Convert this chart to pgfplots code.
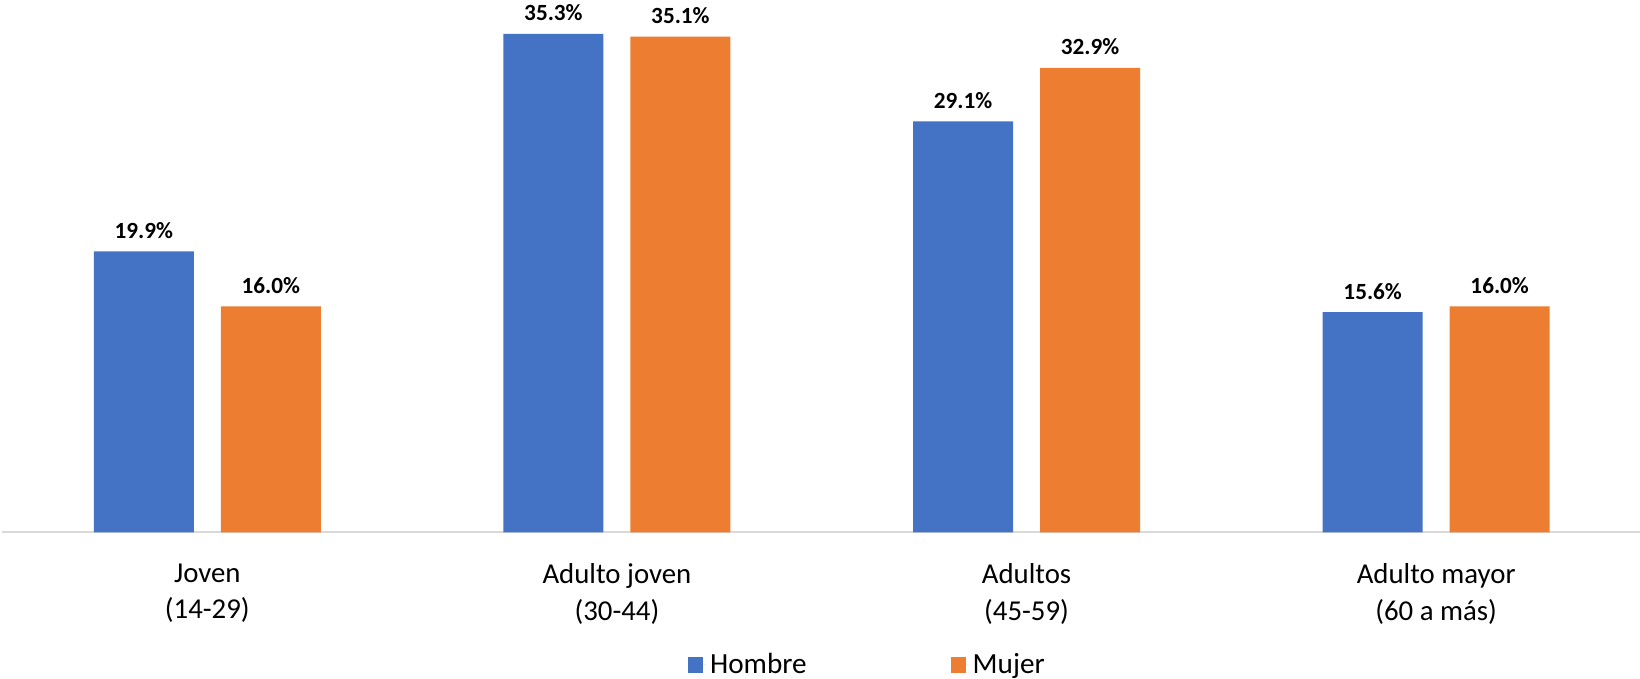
\documentclass[border=0pt]{standalone}
\usepackage{pgfplots}
\pgfplotsset{compat=1.18}
\usepackage{fontspec}
\setmainfont{Carlito}
\definecolor{cblue}{HTML}{4472C4}
\definecolor{corange}{HTML}{ED7D31}
\definecolor{axgray}{HTML}{D9D9D9}
\begin{document}
\begin{tikzpicture}
\begin{axis}[
  at={(0,0)}, anchor=south west,
  scale only axis, width=819.25pt, height=266.15pt,
  xmin=-0.5, xmax=3.5, ymin=0, ymax=37.7,
  enlargelimits=false, clip=false,
  axis x line*=bottom, axis y line=none,
  x axis line style={axgray, line width=1pt},
  ytick=\empty,
  xtick={0,1,2,3},
  xticklabels={{Joven\\(14-29)},{Adulto joven\\(30-44)},{Adultos\\(45-59)},{Adulto mayor\\(60 a más)}},
  major tick length=0pt,
  xticklabel style={align=center, font=\fontsize{14.4}{18.15}\selectfont, text=black, yshift=-12.3pt},
  ybar=13.5pt, bar width=50pt,
  nodes near coords={\pgfmathprintnumber[fixed,fixed zerofill,precision=1,assume math mode=true]{\pgfplotspointmeta}\%},
  every node near coord/.append style={font=\fontsize{11.6}{14}\selectfont\bfseries, text=black, anchor=base, yshift=6.5pt},
  legend columns=2,
  legend style={draw=none, fill=none, at={(0.5285,-0.2493)}, anchor=center,
    font=\fontsize{14.6}{17}\selectfont,
    /tikz/every even column/.append style={column sep=70pt}},
]
\addplot[fill=cblue, draw=none,
  legend image code/.code={\fill[cblue] (0pt,-4pt) rectangle (7.5pt,4pt); \path (7.5pt,0pt) -- (9pt,0pt);}]
  coordinates {(0,19.9) (1,35.3) (2,29.1) (3,15.6)};
\addlegendentry{Hombre}
\addplot[fill=corange, draw=none,
  legend image code/.code={\fill[corange] (0pt,-4pt) rectangle (7.5pt,4pt); \path (7.5pt,0pt) -- (9pt,0pt);}]
  coordinates {(0,16.0) (1,35.1) (2,32.9) (3,16.0)};
\addlegendentry{Mujer}
\end{axis}
\pgfresetboundingbox
\path[use as bounding box] (-1.25pt,-73.35pt) rectangle (818.75pt,266.15pt);
\end{tikzpicture}
\end{document}
